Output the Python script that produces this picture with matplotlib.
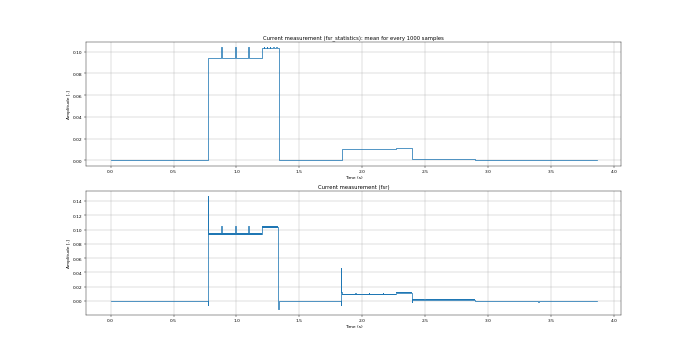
import matplotlib
matplotlib.use("Agg")
import matplotlib.pyplot as plt

plt.rcParams["font.size"] = 8.7

# Mean of every 1000 samples (step values, held until the next time)
stat_t = [0.0, 0.774, 0.874, 0.884, 0.985, 0.995, 1.091, 1.101, 1.202,
          1.215, 1.219, 1.240, 1.244, 1.265, 1.269, 1.290, 1.294, 1.315, 1.319,
          1.334, 1.836, 1.944, 1.950, 2.049, 2.055, 2.160, 2.166, 2.264,
          2.394, 2.894, 3.860]
stat_v = [0.0, 0.094, 0.104, 0.094, 0.104, 0.094, 0.104, 0.094, 0.1033,
          0.1042, 0.1033, 0.1042, 0.1033, 0.1042, 0.1033, 0.1042, 0.1033, 0.1042, 0.1033,
          0.0, 0.0100, 0.0108, 0.0100, 0.0108, 0.0100, 0.0108, 0.0100, 0.0114,
          0.0012, 0.0002, 0.0002]

# Raw fsr current (step values with switching spikes)
raw_t = [0.0, 0.773, 0.774, 0.775, 0.777, 0.874, 0.884, 0.985, 0.995,
         1.091, 1.101, 1.202, 1.333, 1.334, 1.336, 1.831, 1.832, 1.833, 1.835,
         1.944, 1.950, 2.049, 2.055, 2.160, 2.166, 2.264, 2.393, 2.394, 2.396,
         2.894, 3.396, 3.398, 3.400, 3.860]
raw_v = [0.0, -0.006, 0.1465, 0.097, 0.094, 0.105, 0.094, 0.105, 0.094,
         0.105, 0.094, 0.1037, -0.0117, 0.0, 0.0, -0.006, 0.0465, 0.012, 0.0094,
         0.0115, 0.0094, 0.0115, 0.0094, 0.0115, 0.0094, 0.0112, -0.002, 0.0015, 0.0015,
         0.0, -0.0015, 0.0, 0.0, 0.0]

# Noise band on the plateaus of the raw signal: start, end, low, high
band_start = [0.777, 1.202, 1.835, 2.264, 2.396]
band_end = [1.202, 1.333, 2.264, 2.393, 2.894]
band_lo = [0.0928, 0.1027, 0.0087, 0.0105, 0.0008]
band_hi = [0.0952, 0.1047, 0.0103, 0.0120, 0.0022]

fig, (ax1, ax2) = plt.subplots(2, 1, figsize=(19.2, 9.878), dpi=35.9375)

ax1.plot(stat_t, stat_v, drawstyle="steps-post")
ax1.set_title("Current measurement (fsr_statistics): mean for every 1000 samples")
ax1.set_xlabel("Time (s)")
ax1.set_ylabel("Amplitude [-]")
ax1.grid(True)

ax2.plot(raw_t, raw_v, drawstyle="steps-post")
for t0, t1, lo, hi in zip(band_start, band_end, band_lo, band_hi):
    ax2.fill_between([t0, t1], [lo, lo], [hi, hi], color="#1f77b4", lw=0)
ax2.set_title("Current measurement (fsr)")
ax2.set_xlabel("Time (s)")
ax2.set_ylabel("Amplitude [-]")
ax2.grid(True)

fig.savefig("out.png", dpi=35.9375)
